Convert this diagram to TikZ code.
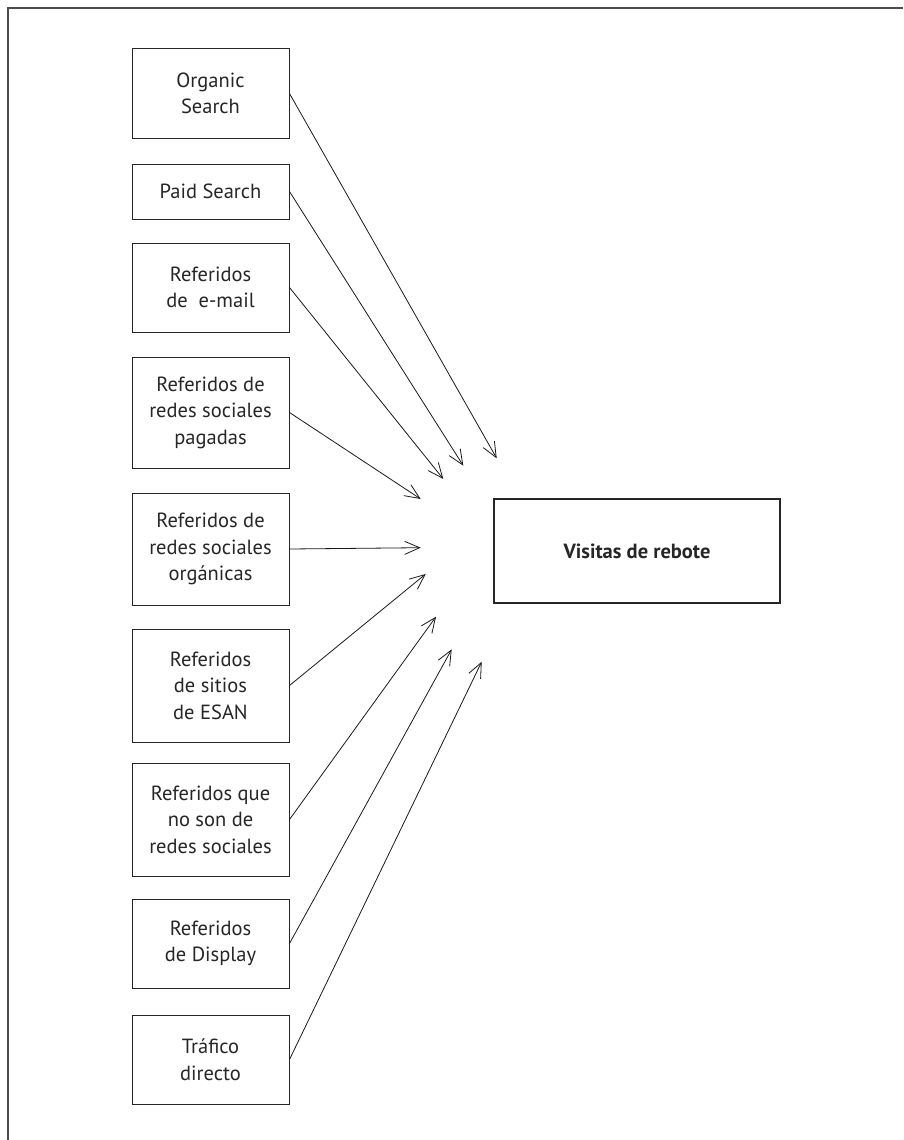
\documentclass[tikz,border=0pt]{standalone}
\usepackage{fontspec}
\setmainfont{PT Sans}
\usetikzlibrary{arrows.meta}
\tikzset{
  src/.style={draw=black!85, line width=1pt, minimum width=157pt, align=center, inner sep=0pt,
    font=\fontsize{20.5}{26.5}\selectfont, text=black!85},
  tgt/.style={draw=black!85, line width=1.1pt, minimum width=286pt, minimum height=104pt, inner sep=0pt,
    font=\fontsize{20.5}{26.5}\selectfont\bfseries, text=black!85},
  arr/.style={draw=black!90, line width=0.8pt, -{Straight Barb[length=15pt,width=13pt]}},
  frame/.style={draw=black!70, line width=1.3pt}
}
\begin{document}
\begin{tikzpicture}[x=1pt,y=-1pt]
\useasboundingbox (0,0) rectangle (903,1140);
\draw[frame] (903,8) -- (8,8) -- (8,1140);

\node[src, minimum height=89pt]  (b1) at (210.5,93.5)  {Organic\\Search};
\node[src, minimum height=55pt]  (b2) at (210.5,191.5) {Paid Search};
\node[src, minimum height=89pt]  (b3) at (210.5,287.5) {Referidos\\de\ \ e-mail};
\node[src, minimum height=111pt] (b4) at (210.5,412.5) {Referidos de\\redes sociales\\pagadas};
\node[src, minimum height=112pt] (b5) at (210.5,549)   {Referidos de\\redes sociales\\orgánicas};
\node[src, minimum height=113pt] (b6) at (210.5,685.5) {Referidos\\de sitios\\de ESAN};
\node[src, minimum height=113pt] (b7) at (210.5,819.5) {Referidos que\\no son de\\redes sociales};
\node[src, minimum height=89pt]  (b8) at (210.5,943.5) {Referidos\\de Display};
\node[src, minimum height=89pt]  (b9) at (210.5,1059.5){Tráfico\\directo};

\node[tgt] (v) at (637,551) {Visitas de rebote};

\coordinate (t1) at (496.7,458.3);
\coordinate (t2) at (463.3,465.7);
\coordinate (t3) at (443.3,479);
\coordinate (t4) at (420.7,499);
\coordinate (t5) at (420.7,547.7);
\coordinate (t6) at (425.7,574);
\coordinate (t7) at (436,616.7);
\coordinate (t8) at (451.7,649.3);
\coordinate (t9) at (481.7,661.7);

\draw[arr] (b1.east) -- (t1);
\draw[arr] (b2.east) -- (t2);
\draw[arr] (b3.east) -- (t3);
\draw[arr] (b4.east) -- (t4);
\draw[arr] (b5.east) -- (t5);
\draw[arr] (b6.east) -- (t6);
\draw[arr] (b7.east) -- (t7);
\draw[arr] (b8.east) -- (t8);
\draw[arr] (b9.east) -- (t9);
\end{tikzpicture}
\end{document}
